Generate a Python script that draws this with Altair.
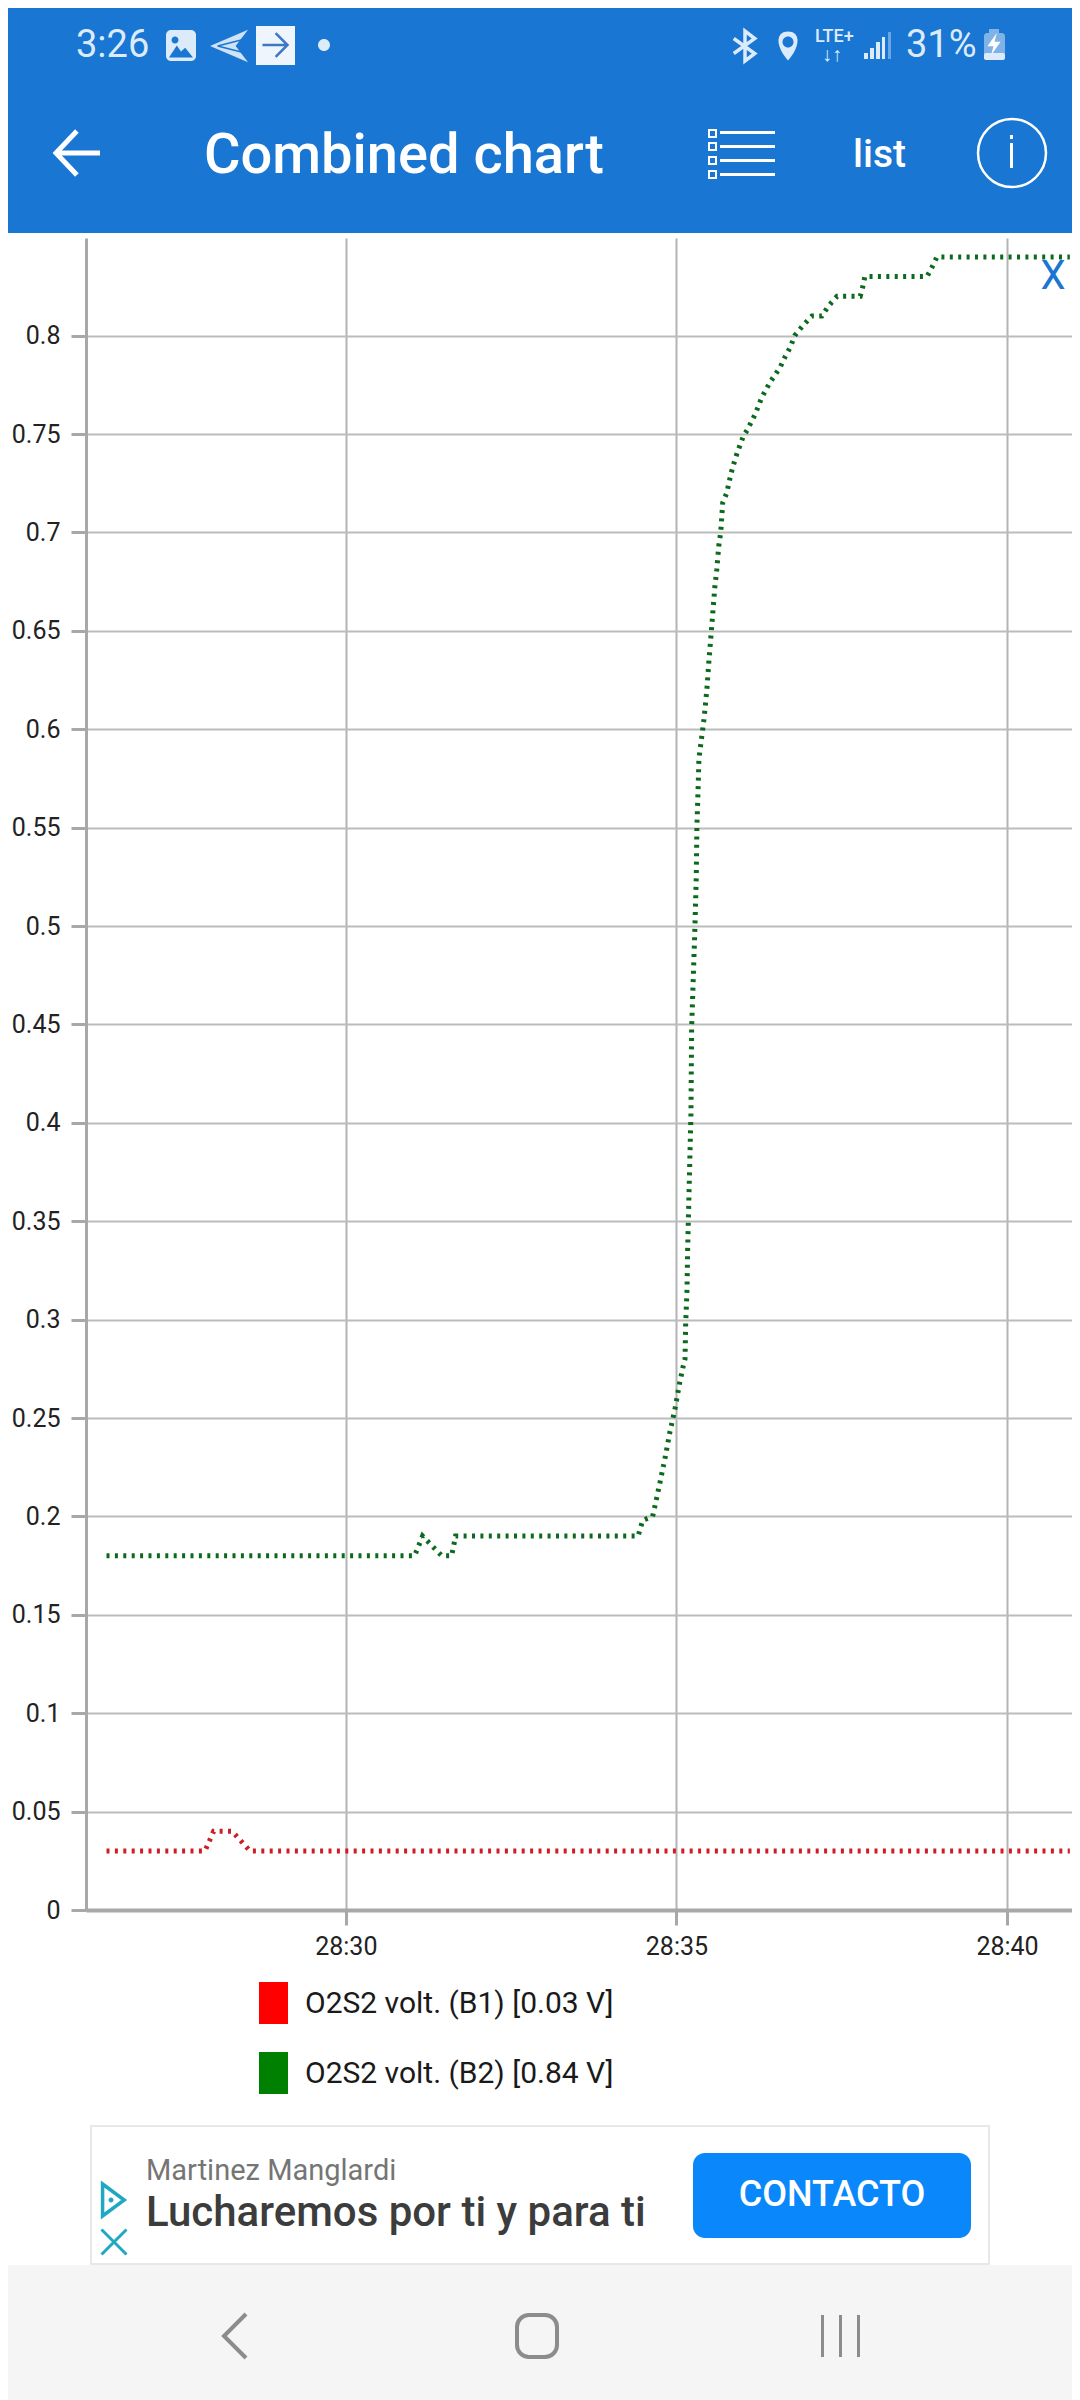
import altair as alt
import pandas as pd

# ---- chart data (seconds past 28:00, volts) ----
red_t = [26.38, 27.87, 28.00, 28.28, 28.55, 40.95]
red_v = [0.03, 0.03, 0.04, 0.04, 0.03, 0.03]
green_t = [26.38, 31.04, 31.16, 31.45, 31.60, 31.66, 34.42, 34.49, 34.64, 34.67, 34.75, 34.83, 34.90, 34.98,
           35.05, 35.10, 35.13, 35.14, 35.16, 35.17, 35.22, 35.23, 35.28, 35.30, 35.31, 35.33, 35.34, 35.39,
           35.42, 35.46, 35.49, 35.52, 35.55, 35.58, 35.61, 35.64, 35.67, 35.70, 35.76, 35.82, 35.85, 35.92,
           36.01, 36.07, 36.19, 36.29, 36.41, 36.49, 36.57, 36.64, 36.72, 36.79, 36.91, 37.05, 37.20, 37.28,
           37.35, 37.43, 37.78, 37.82, 37.85, 38.79, 38.87, 38.94, 40.95]
green_v = [0.18, 0.18, 0.19, 0.18, 0.18, 0.19, 0.19, 0.198, 0.20, 0.2045, 0.217, 0.23, 0.2426, 0.255,
           0.268, 0.276, 0.28, 0.298, 0.315, 0.336, 0.405, 0.448, 0.4995, 0.525, 0.551, 0.572, 0.585, 0.598,
           0.606, 0.62, 0.634, 0.6465, 0.659, 0.672, 0.681, 0.693, 0.70, 0.715, 0.72, 0.729, 0.733, 0.7405,
           0.7487, 0.752, 0.76, 0.7685, 0.776, 0.78, 0.784, 0.789, 0.794, 0.80, 0.805, 0.81, 0.81, 0.814,
           0.817, 0.82, 0.82, 0.825, 0.83, 0.83, 0.835, 0.84, 0.84]
y_ticks = [0, 0.05, 0.1, 0.15, 0.2, 0.25, 0.3, 0.35, 0.4, 0.45, 0.5, 0.55, 0.6, 0.65, 0.7, 0.75, 0.8]
x_ticks = [30, 35, 40]
legend_labels = ["O2S2 volt. (B1) [0.03 V]", "O2S2 volt. (B2) [0.84 V]"]
series_colors = ["#cc1f25", "#0c6a1c"]
legend_colors = ["#ff0000", "#008000"]

BLUE = "#1976d2"
NAV = "#8c8c8c"
TEAL = "#1fa8c4"
FONT = "Roboto"
one = pd.DataFrame({"k": [0]})


def px(x):
    return x - 86


def py(y):
    return y - 238


def rect(x0, y0, x1, y1, color, radius=0, stroke=None, sw=0):
    kw = {"fill": color, "cornerRadius": radius}
    if stroke:
        kw.update(stroke=stroke, strokeWidth=sw)
    return alt.Chart(one).mark_rect(**kw).encode(
        x=alt.value(px(x0)), x2=alt.value(px(x1)), y=alt.value(py(y0)), y2=alt.value(py(y1)))


def txt(s, x, y, size, color, align="left", weight=400, font=FONT):
    return alt.Chart(one).mark_text(text=s, align=align, baseline="middle", font=font, fontSize=size,
                                    fontWeight=weight, color=color).encode(
        x=alt.value(px(x)), y=alt.value(py(y)))


def icon(path, cx, cy, side, fill=None, stroke=None, sw=2):
    kw = {"shape": path, "size": side ** 2, "opacity": 1}
    if fill:
        kw.update(filled=True, fill=fill, strokeWidth=0)
    else:
        kw.update(filled=False, stroke=stroke, strokeWidth=sw, fillOpacity=0)
    return alt.Chart(one).mark_point(**kw).encode(x=alt.value(px(cx)), y=alt.value(py(cy)))


W = "#ffffff"
SOFT = "#dcebfa"
CIRCLE = "M-1,0 a1,1 0 1 0 2,0 a1,1 0 1 0 -2,0 Z"
chrome = [
    # app bar
    rect(0, 0, 1080, 233, BLUE),
    txt("3:26", 76, 46, 38, SOFT),
    rect(166, 30, 196, 61, SOFT, radius=5),
    icon("M-1,0.7 L-0.35,-0.3 L0,0.2 L0.35,-0.1 L1,0.7 Z", 181, 49, 24, fill=BLUE),
    icon(CIRCLE, 175, 40, 7, fill=BLUE),
    icon("M1,-0.85 L-1,0 L1,0.85 L0.35,0 Z", 229, 46, 38, fill="#cfe2f6"),
    icon("M0.8,-0.35 L-0.6,0 L0.8,0.35", 229, 46, 38, stroke=BLUE, sw=1.5),
    rect(256, 26, 295, 65, "#eef5fd"),
    icon("M-1,0 L1,0 M0.05,-0.95 L1,0 L0.05,0.95", 275, 45, 25, stroke="#3d78c4", sw=2.5),
    icon(CIRCLE, 324, 45, 12, fill=SOFT),
    icon("M-0.75,-0.5 L0.65,0.5 L0,1 L0,-1 L0.65,-0.5 L-0.75,0.5", 745, 46, 30, stroke=SOFT, sw=3.5),
    icon("M0,1 C-0.95,-0.1 -0.8,-1 0,-1 C0.8,-1 0.95,-0.1 0,1 Z", 788, 46, 29, fill=SOFT),
    icon(CIRCLE, 788, 42, 11, fill=BLUE),
    txt("LTE+", 815, 37, 18, SOFT, weight=500),
    txt("↓↑", 822, 55, 20, SOFT, weight=700),
    rect(864, 53, 868, 59, SOFT), rect(870, 48, 874, 59, SOFT), rect(876, 42, 880, 59, SOFT),
    rect(882, 37, 885, 59, SOFT), rect(888, 32, 891, 59, "#6ba6e6"),
    txt("31%", 906, 46, 38, SOFT),
    rect(984, 33, 1005, 60, "#7fb2e6", radius=3),
    rect(989, 29, 999, 34, "#7fb2e6"),
    rect(984, 53, 1005, 60, SOFT, radius=2),
    icon("M0.25,-1 L-0.6,0.2 L-0.05,0.2 L-0.25,1 L0.6,-0.2 L0.05,-0.2 Z", 994, 44, 22, fill=W),
    # toolbar
    icon("M1,0 L-1,0 M-0.05,-1 L-1,0 L-0.05,1", 78, 153, 44, stroke=W, sw=5),
    txt("Combined chart", 204, 156, 56, W, weight=500),
    rect(709, 130, 716, 137, BLUE, stroke=W, sw=2), rect(709, 143, 716, 150, BLUE, stroke=W, sw=2),
    rect(709, 157, 716, 164, BLUE, stroke=W, sw=2), rect(709, 171, 716, 178, BLUE, stroke=W, sw=2),
    rect(720, 131, 775, 134, W), rect(720, 145, 775, 148, W), rect(720, 159, 775, 162, W), rect(720, 173, 775, 176, W),
    txt("list", 853, 155, 39, W, weight=500),
    icon(CIRCLE, 1012, 153, 68, stroke=W, sw=2.5),
    rect(1010, 143, 1013, 168, W),
    rect(1010, 135, 1013, 139, W),
    # legend
    rect(259, 1982, 288, 2024, legend_colors[0]),
    rect(259, 2052, 288, 2094, legend_colors[1]),
    txt(legend_labels[0], 305, 2004, 30, "#1a1a1a"),
    txt(legend_labels[1], 305, 2074, 30, "#1a1a1a"),
    # ad
    rect(91, 2126, 989, 2264, W, stroke="#e8e8e8", sw=2),
    txt("Martinez Manglardi", 146, 2171, 29, "#757575"),
    txt("Lucharemos por ti y para ti", 146, 2213, 42, "#3c3c3c", weight=500),
    rect(693, 2153, 971, 2238, "#0a87fb", radius=12),
    txt("CONTACTO", 832, 2195, 36, W, align="center", weight=500),
    icon("M-0.65,-1 L0.7,0 L-0.65,1 Z", 113, 2200, 32, stroke=TEAL, sw=3.5),
    icon(CIRCLE, 111, 2200, 5, fill=TEAL),
    icon("M-1,-1 L1,1 M1,-1 L-1,1", 114, 2242, 25, stroke=TEAL, sw=3),
    # navigation bar
    rect(0, 2265, 1080, 2400, "#f5f5f5"),
    icon("M0.5,-1 L-0.5,0 L0.5,1", 235, 2336, 44, stroke=NAV, sw=4),
    rect(517, 2315, 557, 2357, "#f5f5f5", radius=12, stroke=NAV, sw=4),
    rect(821, 2315, 824, 2357, NAV), rect(839, 2315, 842, 2357, NAV), rect(857, 2315, 860, 2357, NAV),
]

AXIS_GREY = "#a8a8a8"
GRID_GREY = "#bcbcbc"
x_scale = alt.Scale(domain=[26.07, 40.983], nice=False, zero=False)
y_scale = alt.Scale(domain=[0, 0.8496], nice=False)
x_axis = alt.Axis(values=x_ticks, labelExpr="'28:' + datum.value", title=None, grid=True, gridColor="#b4b4b4",
                  gridWidth=2, tickSize=15, tickWidth=3, tickColor=AXIS_GREY, domainColor=AXIS_GREY, domainWidth=4,
                  labelFont=FONT, labelFontSize=25, labelColor="#222222", labelPadding=9)
y_axis = alt.Axis(values=y_ticks, format=".2~f", title=None, grid=True, gridColor=GRID_GREY, gridWidth=2,
                  tickSize=15, tickWidth=3, tickColor=AXIS_GREY, domainColor=AXIS_GREY, domainWidth=3,
                  labelFont=FONT, labelFontSize=25, labelColor="#222222", labelPadding=11)

red_df = pd.DataFrame({"t": red_t, "v": red_v})
green_df = pd.DataFrame({"t": green_t, "v": green_v})

red_line = alt.Chart(red_df).mark_line(color=series_colors[0], strokeWidth=5, strokeDash=[3, 5.4]).encode(
    x=alt.X("t:Q", scale=x_scale, axis=x_axis), y=alt.Y("v:Q", scale=y_scale, axis=y_axis))
green_line = alt.Chart(green_df).mark_line(color=series_colors[1], strokeWidth=5, strokeDash=[3, 5.4]).encode(
    x=alt.X("t:Q", scale=x_scale, axis=x_axis), y=alt.Y("v:Q", scale=y_scale, axis=y_axis))

close_x = txt("X", 1053, 277, 40, BLUE, align="center")

chart = alt.layer(*chrome, red_line, green_line, close_x).properties(
    width=986, height=1672,
    autosize=alt.AutoSizeParams(type="none"),
    padding={"left": 78, "top": 230, "right": 0, "bottom": 490},
    background="white",
).configure_view(stroke=None)

chart.save("out.html", embed_options={"renderer": "svg", "actions": False})
